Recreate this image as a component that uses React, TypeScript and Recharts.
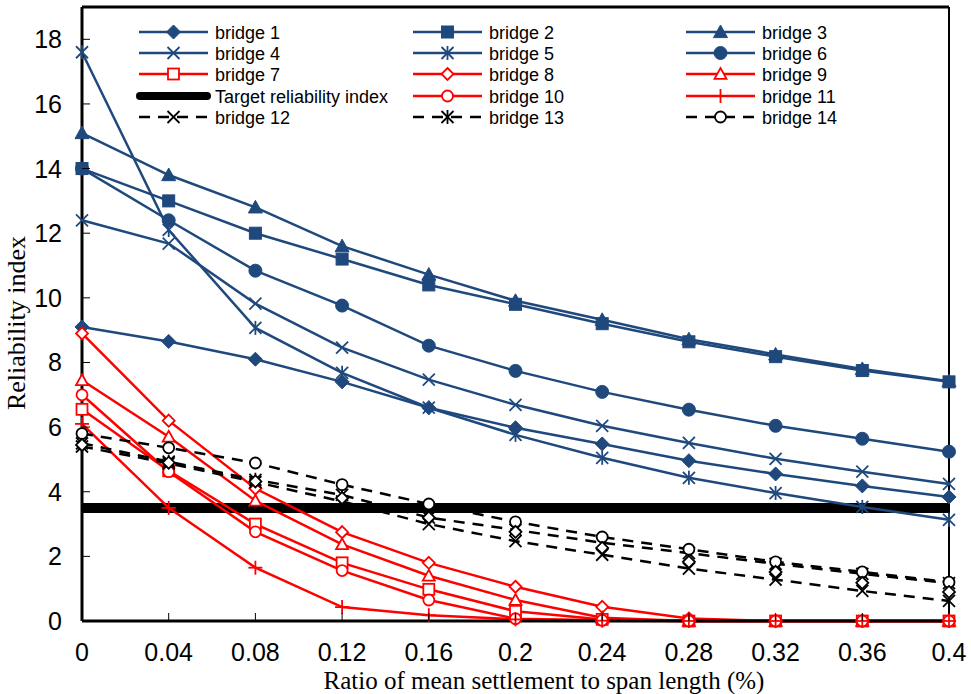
import React from 'react';
import { LineChart, Line, XAxis, YAxis, ReferenceLine } from 'recharts';

// ---- data ----
const ratios = [0, 0.04, 0.08, 0.12, 0.16, 0.2, 0.24, 0.28, 0.32, 0.36, 0.4];
const xTicks = [0, 0.04, 0.08, 0.12, 0.16, 0.2, 0.24, 0.28, 0.32, 0.36, 0.4];
const yTicks = [0, 2, 4, 6, 8, 10, 12, 14, 16, 18];
const targetIndex = 3.5;

const bridge1 = [9.1, 8.65, 8.1, 7.4, 6.6, 5.98, 5.48, 4.96, 4.55, 4.18, 3.84];
const bridge2 = [14.0, 13.0, 12.0, 11.2, 10.4, 9.8, 9.2, 8.64, 8.18, 7.75, 7.4];
const bridge3 = [15.1, 13.8, 12.8, 11.6, 10.72, 9.91, 9.32, 8.72, 8.25, 7.8, 7.42];
const bridge4 = [12.4, 11.68, 9.82, 8.46, 7.47, 6.69, 6.04, 5.51, 5.02, 4.62, 4.24];
const bridge5 = [17.6, 12.1, 9.07, 7.68, 6.6, 5.76, 5.05, 4.43, 3.96, 3.53, 3.13];
const bridge6 = [14.0, 12.4, 10.84, 9.76, 8.52, 7.74, 7.09, 6.54, 6.04, 5.64, 5.24];
const bridge7 = [6.55, 4.65, 3.0, 1.8, 0.98, 0.3, 0.05, 0, 0, 0, 0];
const bridge8 = [8.9, 6.2, 4.1, 2.75, 1.8, 1.06, 0.44, 0.08, 0, 0, 0];
const bridge9 = [7.45, 5.7, 3.72, 2.37, 1.4, 0.65, 0.1, 0, 0, 0, 0];
const bridge10 = [7.0, 4.62, 2.76, 1.56, 0.65, 0.07, 0.02, 0, 0, 0, 0];
const bridge11 = [6.1, 3.5, 1.65, 0.43, 0.18, 0.05, 0.01, 0, 0, 0, 0];
const bridge12 = [5.4, 4.88, 4.3, 3.7, 3.0, 2.47, 2.05, 1.62, 1.28, 0.93, 0.62];
const bridge13 = [5.5, 4.93, 4.37, 3.9, 3.2, 2.82, 2.42, 2.1, 1.77, 1.46, 1.17];
const bridge14 = [5.8, 5.36, 4.89, 4.22, 3.62, 3.07, 2.6, 2.22, 1.83, 1.52, 1.2];
const unlabeled = [5.45, 4.9, 4.32, 3.8, 3.2, 2.76, 2.26, 1.83, 1.52, 1.18, 0.9];

// ---- styles ----
const BLUE = '#1F497D';
const RED = '#FF0000';
const BLACK = '#000000';

type Shape = 'diamond' | 'square' | 'triangle' | 'x' | 'star' | 'circle' | 'plus';
interface SeriesDef {
  key: string;
  name: string;
  values: number[];
  color: string;
  shape: Shape;
  open: boolean;
  dashed: boolean;
  noLine?: boolean;
}

const series: SeriesDef[] = [
  { key: 'b1', name: 'bridge 1', values: bridge1, color: BLUE, shape: 'diamond', open: false, dashed: false },
  { key: 'b2', name: 'bridge 2', values: bridge2, color: BLUE, shape: 'square', open: false, dashed: false },
  { key: 'b3', name: 'bridge 3', values: bridge3, color: BLUE, shape: 'triangle', open: false, dashed: false },
  { key: 'b4', name: 'bridge 4', values: bridge4, color: BLUE, shape: 'x', open: false, dashed: false },
  { key: 'b5', name: 'bridge 5', values: bridge5, color: BLUE, shape: 'star', open: false, dashed: false },
  { key: 'b6', name: 'bridge 6', values: bridge6, color: BLUE, shape: 'circle', open: false, dashed: false },
  { key: 'b7', name: 'bridge 7', values: bridge7, color: RED, shape: 'square', open: true, dashed: false },
  { key: 'b8', name: 'bridge 8', values: bridge8, color: RED, shape: 'diamond', open: true, dashed: false },
  { key: 'b9', name: 'bridge 9', values: bridge9, color: RED, shape: 'triangle', open: true, dashed: false },
  { key: 'b10', name: 'bridge 10', values: bridge10, color: RED, shape: 'circle', open: true, dashed: false },
  { key: 'b11', name: 'bridge 11', values: bridge11, color: RED, shape: 'plus', open: false, dashed: false },
  { key: 'b12', name: 'bridge 12', values: bridge12, color: BLACK, shape: 'x', open: false, dashed: true },
  { key: 'b13', name: 'bridge 13', values: bridge13, color: BLACK, shape: 'star', open: false, dashed: true },
  { key: 'b14', name: 'bridge 14', values: bridge14, color: BLACK, shape: 'circle', open: true, dashed: true },
  { key: 'b15', name: '', values: unlabeled, color: BLACK, shape: 'diamond', open: true, dashed: true, noLine: true },
];

const data = ratios.map((r, i) => {
  const row: Record<string, number> = { ratio: r };
  series.forEach((s) => {
    row[s.key] = s.values[i];
  });
  return row;
});

const SANS = '"Liberation Sans", Arial, sans-serif';
const SERIF = '"Liberation Serif", "Times New Roman", serif';

function Marker({ cx, cy, shape, color, open }: { cx: number; cy: number; shape: Shape; color: string; open: boolean }) {
  if (cx == null || cy == null || isNaN(cx) || isNaN(cy)) return null;
  const fill = open ? '#ffffff' : color;
  const sw = open ? 1.8 : 1;
  switch (shape) {
    case 'diamond': {
      const s = open ? 6 : 7;
      return (
        <polygon
          points={`${cx},${cy - s} ${cx + s},${cy} ${cx},${cy + s} ${cx - s},${cy}`}
          fill={fill}
          stroke={color}
          strokeWidth={sw}
        />
      );
    }
    case 'square': {
      const s = open ? 5.5 : 6;
      return <rect x={cx - s} y={cy - s} width={2 * s} height={2 * s} fill={fill} stroke={color} strokeWidth={sw} />;
    }
    case 'triangle': {
      const s = open ? 6 : 7;
      return (
        <polygon
          points={`${cx},${cy - s} ${cx + s},${cy + s * 0.8} ${cx - s},${cy + s * 0.8}`}
          fill={fill}
          stroke={color}
          strokeWidth={sw}
        />
      );
    }
    case 'circle': {
      const r = open ? 5.5 : 6.5;
      return <circle cx={cx} cy={cy} r={r} fill={fill} stroke={color} strokeWidth={sw} />;
    }
    case 'x': {
      const s = 6;
      return (
        <g stroke={color} strokeWidth={1.8}>
          <line x1={cx - s} y1={cy - s} x2={cx + s} y2={cy + s} />
          <line x1={cx - s} y1={cy + s} x2={cx + s} y2={cy - s} />
        </g>
      );
    }
    case 'star': {
      const s = 6;
      return (
        <g stroke={color} strokeWidth={1.8}>
          <line x1={cx - s} y1={cy - s} x2={cx + s} y2={cy + s} />
          <line x1={cx - s} y1={cy + s} x2={cx + s} y2={cy - s} />
          <line x1={cx} y1={cy - s - 1} x2={cx} y2={cy + s + 1} />
        </g>
      );
    }
    case 'plus': {
      const s = 7;
      return (
        <g stroke={color} strokeWidth={1.8}>
          <line x1={cx - s} y1={cy} x2={cx + s} y2={cy} />
          <line x1={cx} y1={cy - s} x2={cx} y2={cy + s} />
        </g>
      );
    }
  }
  return null;
}

const fmtTick = (v: number) => String(Number(v.toFixed(2)));

const XTick = (props: any) => {
  const { x, y, payload } = props;
  const v = payload.value;
  const inner = v > 0 && v < 0.4;
  return (
    <g>
      {inner && <line x1={x} y1={y} x2={x} y2={y - 8} stroke="#000" strokeWidth={1} />}
      <text x={x} y={y + 40} textAnchor="middle" fontSize={25} fontFamily={SANS} fill="#000">
        {fmtTick(v)}
      </text>
    </g>
  );
};

const YTick = (props: any) => {
  const { x, y, payload } = props;
  const v = payload.value;
  return (
    <g>
      {v > 0 && <line x1={x} y1={y} x2={x + 8} y2={y} stroke="#000" strokeWidth={1} />}
      <text x={x - 20} y={y + 9} textAnchor="end" fontSize={25} fontFamily={SANS} fill="#000">
        {v}
      </text>
    </g>
  );
};

const legendRows = [
  ['b1', 'b2', 'b3'],
  ['b4', 'b5', 'b6'],
  ['b7', 'b8', 'b9'],
  ['target', 'b10', 'b11'],
  ['b12', 'b13', 'b14'],
];
const legendRowY = [32, 53, 74, 96, 117];
const legendColX = [139, 413, 686];
const legendLineLen = 69;
const legendTextGap = 7;

function LegendBox() {
  return (
    <svg width={971} height={140} style={{ position: 'absolute', left: 0, top: 0, pointerEvents: 'none' }}>
      {legendRows.map((row, ri) =>
        row.map((key, ci) => {
          const y = legendRowY[ri];
          const x0 = legendColX[ci];
          const x1 = x0 + legendLineLen;
          const tx = x1 + legendTextGap;
          if (key === 'target') {
            return (
              <g key={key}>
                <line x1={x0 + 1} y1={y} x2={x1 - 1} y2={y} stroke="#000" strokeWidth={8} strokeLinecap="round" />
                <text x={tx} y={y + 6.5} fontSize={18} fontFamily={SANS} fill="#000">
                  Target reliability index
                </text>
              </g>
            );
          }
          const s = series.find((d) => d.key === key)!;
          return (
            <g key={key}>
              <line
                x1={x0}
                y1={y}
                x2={x1}
                y2={y}
                stroke={s.color}
                strokeWidth={2.5}
                strokeDasharray={s.dashed ? '11 8' : undefined}
              />
              <Marker cx={(x0 + x1) / 2} cy={y} shape={s.shape} color={s.color} open={s.open} />
              <text x={tx} y={y + 6.5} fontSize={18} fontFamily={SANS} fill="#000">
                {s.name}
              </text>
            </g>
          );
        })
      )}
    </svg>
  );
}

export default function App() {
  return (
    <div style={{ position: 'absolute', left: 0, top: 0, width: 971, height: 694, background: '#fff' }}>
      <LineChart width={971} height={694} data={data} margin={{ top: 7, right: 22, left: 20, bottom: 33 }}>
        <XAxis
          dataKey="ratio"
          type="number"
          domain={[0, 0.4]}
          ticks={xTicks}
          interval={0}
          tickSize={0}
          tickMargin={0}
          tickLine={false}
          tick={<XTick />}
          height={40}
          axisLine={{ stroke: '#000', strokeWidth: 3 }}
        />
        <YAxis
          type="number"
          domain={[0, 19]}
          ticks={yTicks}
          interval={0}
          tickSize={0}
          tickMargin={0}
          tickLine={false}
          tick={<YTick />}
          width={62}
          axisLine={{ stroke: '#000', strokeWidth: 3 }}
        />
        <ReferenceLine y={19} stroke="#000" strokeWidth={3} />
        <ReferenceLine x={0.4} stroke="#000" strokeWidth={2} />
        <ReferenceLine y={targetIndex} stroke="#000" strokeWidth={10} />
        {series.map((s) => (
          <Line
            key={s.key}
            dataKey={s.key}
            name={s.name}
            type="linear"
            stroke={s.noLine ? 'none' : s.color}
            strokeWidth={2.5}
            strokeDasharray={s.dashed ? '11 8' : undefined}
            isAnimationActive={false}
            activeDot={false}
            dot={(p: any) => (
              <Marker key={`${s.key}-${p.index}`} cx={p.cx} cy={p.cy} shape={s.shape} color={s.color} open={s.open} />
            )}
          />
        ))}
        <text
          x={16}
          y={323}
          transform="rotate(-90 16 323)"
          textAnchor="middle"
          dominantBaseline="central"
          fontSize={26}
          fontFamily={SERIF}
          fill="#000"
        >
          Reliability index
        </text>
        <text x={544} y={689} textAnchor="middle" fontSize={25} fontFamily={SERIF} fill="#000">
          Ratio of mean settlement to span length (%)
        </text>
      </LineChart>
      <LegendBox />
    </div>
  );
}
